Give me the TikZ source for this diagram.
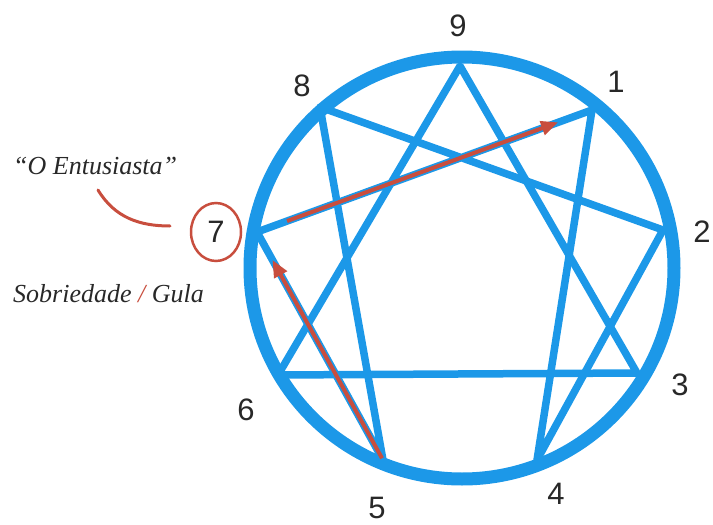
\documentclass[tikz,border=0pt]{standalone}
\usepackage{fontspec}
\setmainfont{Liberation Sans}
\newfontfamily\handfont{Liberation Serif}
\usetikzlibrary{arrows.meta,shapes.geometric}
\definecolor{ennblue}{RGB}{28,152,232}
\definecolor{ennred}{RGB}{200,78,62}
\definecolor{inkgray}{RGB}{40,40,40}
\tikzset{
  ring/.style={draw=ennblue, line width=13pt},
  chord/.style={draw=ennblue, line width=7.5pt, line cap=round, line join=round},
  redarrow/.style={draw=ennred, line width=4pt, -{Triangle[length=17pt,width=14pt]}},
  numlabel/.style={font=\fontsize{31}{31}\selectfont, text=inkgray, inner sep=0pt},
  handtext/.style={font=\handfont\itshape\fontsize{26}{26}\selectfont, text=inkgray, inner sep=0pt, anchor=west},
}
\begin{document}
\begin{tikzpicture}[x=1pt,y=-1pt]
\useasboundingbox (0,0) rectangle (713,525);
% outer ring
\draw[ring] (462,268) ellipse (212 and 211);
% points
\coordinate (p9) at (460,66);
\coordinate (p1) at (592,110);
\coordinate (p2) at (663,230);
\coordinate (p3) at (637,373);
\coordinate (p4) at (537,460);
\coordinate (p5) at (383,460);
\coordinate (p6) at (278,375);
\coordinate (p7) at (257,232);
\coordinate (p8) at (320,107);
% triangle
\draw[chord] (p9) -- (p3) -- (p6) -- cycle;
% hexad
\draw[chord] (p1) -- (p4) -- (p2) -- (p8) -- (p5) -- (p7) -- cycle;
% red arrows
\draw[redarrow, shorten <=32pt, shorten >=36pt] (p7) -- (p1);
\draw[redarrow, shorten <=2pt, shorten >=32pt] (p5) -- (p7);
% numbers
\node[numlabel] (n9) at (458,26) {9};
\node[numlabel] (n8) at (302,86) {8};
\node[numlabel] (n1) at (616,82) {1};
\node[numlabel] (n2) at (702,232) {2};
\node[numlabel] (n3) at (680,385) {3};
\node[numlabel] (n4) at (556,494) {4};
\node[numlabel] (n5) at (377,508) {5};
\node[numlabel] (n6) at (246,410) {6};
\node[numlabel, shape=ellipse, draw=ennred, line width=2.5pt, minimum width=50pt, minimum height=58pt] (n7) at (216,232) {7};
% texts
\node[handtext] (tag) at (13,166) {“O Entusiasta”};
\node[handtext] (virt) at (13,294) {Sobriedade {\color{ennred}/} Gula};
% connector from tag to 7
\coordinate (ca) at (98,190);
\coordinate (cb) at (170,226);
\draw[ennred, line width=3pt, line cap=round] (ca) .. controls (115,218) and (140,226) .. (cb);
\end{tikzpicture}
\end{document}
